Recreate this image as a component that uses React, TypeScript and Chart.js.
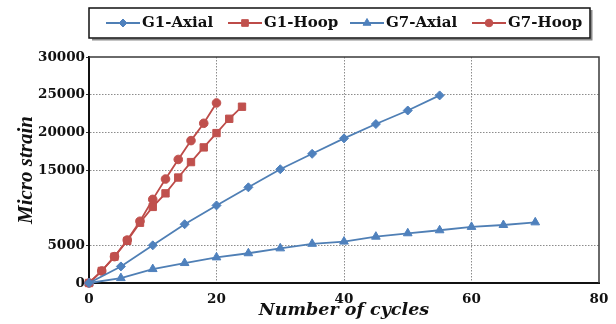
import { useEffect, useRef } from "react";
import { Chart, registerables } from "chart.js";
import { drawPoint } from "chart.js/helpers";

Chart.register(...registerables);

// Cycle counts and micro strain readings per gauge
const g1AxialCycles = [0, 5, 10, 15, 20, 25, 30, 35, 40, 45, 50, 55];
const g1Axial = [0, 2200, 5000, 7800, 10300, 12700, 15100, 17150, 19200, 21100, 22900, 24900];

const g1HoopCycles = [0, 2, 4, 6, 8, 10, 12, 14, 16, 18, 20, 22, 24];
const g1Hoop = [0, 1600, 3500, 5600, 8000, 10100, 11900, 14000, 16050, 18000, 19900, 21800, 23400];

const g7AxialCycles = [0, 5, 10, 15, 20, 25, 30, 35, 40, 45, 50, 55, 60, 65, 70];
const g7Axial = [0, 650, 1850, 2650, 3400, 3950, 4600, 5200, 5500, 6150, 6600, 7000, 7450, 7700, 8050];

const g7HoopCycles = [0, 2, 4, 6, 8, 10, 12, 14, 16, 18, 20];
const g7Hoop = [0, 1600, 3500, 5700, 8200, 11100, 13800, 16400, 18900, 21200, 23900];

const xTickValues = [0, 20, 40, 60, 80];
const yTickValues = [0, 5000, 15000, 20000, 25000, 30000];

const seriesLabels = ["G1-Axial", "G1-Hoop", "G7-Axial", "G7-Hoop"];

const BLUE_LINE = "#4f7fb5";
const BLUE_MARK = "#4f81bd";
const RED_LINE = "#bd4b48";
const RED_MARK = "#c0504d";

const TICK_FONT = { family: '"DejaVu Serif"', size: 13.5, weight: "bold" as const };

function toPoints(xs: number[], ys: number[]) {
  return xs.map((x, i) => ({ x, y: ys[i] }));
}

function series(label: string, xs: number[], ys: number[], line: string, mark: string, style: string, radius: number) {
  return {
    label,
    data: toPoints(xs, ys),
    borderColor: line,
    borderWidth: 1.8,
    pointStyle: style,
    pointRadius: radius,
    pointBackgroundColor: mark,
    pointBorderColor: mark,
    pointBorderWidth: 1,
    tension: 0,
    clip: false as const,
  };
}

// Boxed legend with a line sample and marker for each series, plus the plot frame
const framePlugin = {
  id: "frameAndLegend",
  afterDatasetsDraw(chart: any) {
    const { ctx, chartArea } = chart;
    ctx.save();
    ctx.strokeStyle = "#3a3a3a";
    ctx.lineWidth = 1.5;
    ctx.beginPath();
    ctx.moveTo(chartArea.left, chartArea.top);
    ctx.lineTo(chartArea.right, chartArea.top);
    ctx.lineTo(chartArea.right, chartArea.bottom);
    ctx.stroke();
    ctx.restore();
  },
  afterDraw(chart: any) {
    const ctx: CanvasRenderingContext2D = chart.ctx;
    ctx.save();
    // shadow on right and bottom edges
    ctx.strokeStyle = "#8a8a8a";
    ctx.lineWidth = 2;
    ctx.beginPath();
    ctx.moveTo(92, 39.5);
    ctx.lineTo(591.5, 39.5);
    ctx.lineTo(591.5, 10);
    ctx.stroke();
    ctx.strokeStyle = "#111";
    ctx.lineWidth = 1.5;
    ctx.strokeRect(89, 8, 501, 30);

    const y = 23;
    chart.data.datasets.forEach((ds: any, i: number) => {
      const x0 = 106 + i * 122;
      ctx.strokeStyle = ds.borderColor;
      ctx.lineWidth = 2;
      ctx.beginPath();
      ctx.moveTo(x0, y);
      ctx.lineTo(x0 + 34, y);
      ctx.stroke();
      ctx.fillStyle = ds.pointBackgroundColor;
      ctx.strokeStyle = ds.pointBorderColor;
      ctx.lineWidth = 1;
      drawPoint(ctx, { pointStyle: ds.pointStyle, radius: ds.pointRadius - 0.5, rotation: 0, borderWidth: 1 }, x0 + 17, y);
      ctx.fillStyle = "#111";
      ctx.font = 'bold 15px "DejaVu Serif"';
      ctx.textBaseline = "middle";
      ctx.textAlign = "left";
      ctx.fillText(ds.label, x0 + 36, y + 0.5);
    });
    ctx.restore();
  },
};

export default function App() {
  const canvasRef = useRef<HTMLCanvasElement | null>(null);

  useEffect(() => {
    document.body.style.margin = "0";
    const canvas = canvasRef.current;
    if (!canvas) return;

    const chart = new Chart(canvas, {
      type: "line",
      data: {
        datasets: [
          series(seriesLabels[0], g1AxialCycles, g1Axial, BLUE_LINE, BLUE_MARK, "rectRot", 4.5),
          series(seriesLabels[1], g1HoopCycles, g1Hoop, RED_LINE, RED_MARK, "rect", 5.2),
          series(seriesLabels[2], g7AxialCycles, g7Axial, BLUE_LINE, BLUE_MARK, "triangle", 5),
          series(seriesLabels[3], g7HoopCycles, g7Hoop, RED_LINE, RED_MARK, "circle", 4.3),
        ] as any,
      },
      options: {
        responsive: false,
        animation: false,
        layout: { padding: { top: 57, right: 17, bottom: 0, left: 12 } },
        plugins: {
          legend: { display: false },
          tooltip: { enabled: false },
        },
        scales: {
          x: {
            type: "linear",
            min: 0,
            max: 80,
            afterFit: (scale: any) => {
              scale.height = 41;
            },
            afterBuildTicks: (scale: any) => {
              scale.ticks = xTickValues.map((value) => ({ value }));
            },
            ticks: {
              color: "#111",
              font: TICK_FONT,
              padding: 5,
              maxRotation: 0,
            },
            grid: {
              color: (c: any) =>
                c.tick && (c.tick.value === 0 || c.tick.value === 80) ? "rgba(0,0,0,0)" : "#8c8c8c",
              lineWidth: 1,
              tickLength: 3,
              tickColor: "rgba(0,0,0,0)",
            },
            border: { color: "#111", width: 2, dash: [1.5, 1.5] },
            title: {
              display: true,
              text: "Number of cycles",
              color: "#111",
              font: { family: '"DejaVu Serif"', size: 17.5, weight: "bold", style: "italic" },
              padding: { top: 0, bottom: 3 },
            },
          },
          y: {
            type: "linear",
            min: 0,
            max: 30000,
            afterFit: (scale: any) => {
              scale.width = 77;
            },
            afterBuildTicks: (scale: any) => {
              scale.ticks = yTickValues.map((value) => ({ value }));
            },
            ticks: {
              color: "#111",
              font: TICK_FONT,
              padding: 1,
              callback: (v: any) => String(v),
            },
            grid: {
              color: (c: any) =>
                c.tick && (c.tick.value === 0 || c.tick.value === 30000) ? "rgba(0,0,0,0)" : "#8c8c8c",
              lineWidth: 1,
              tickLength: 3,
              tickColor: "#333",
            },
            border: { color: "#111", width: 2, dash: [1.5, 1.5] },
            title: {
              display: true,
              text: "Micro strain",
              color: "#111",
              font: { family: '"Liberation Serif"', size: 21, weight: "bold", style: "italic" },
              padding: { top: 2, bottom: 0 },
            },
          },
        },
      },
      plugins: [framePlugin],
    });

    return () => chart.destroy();
  }, []);

  return (
    <div style={{ width: 616, height: 324 }}>
      <canvas ref={canvasRef} width={616} height={324} />
    </div>
  );
}
